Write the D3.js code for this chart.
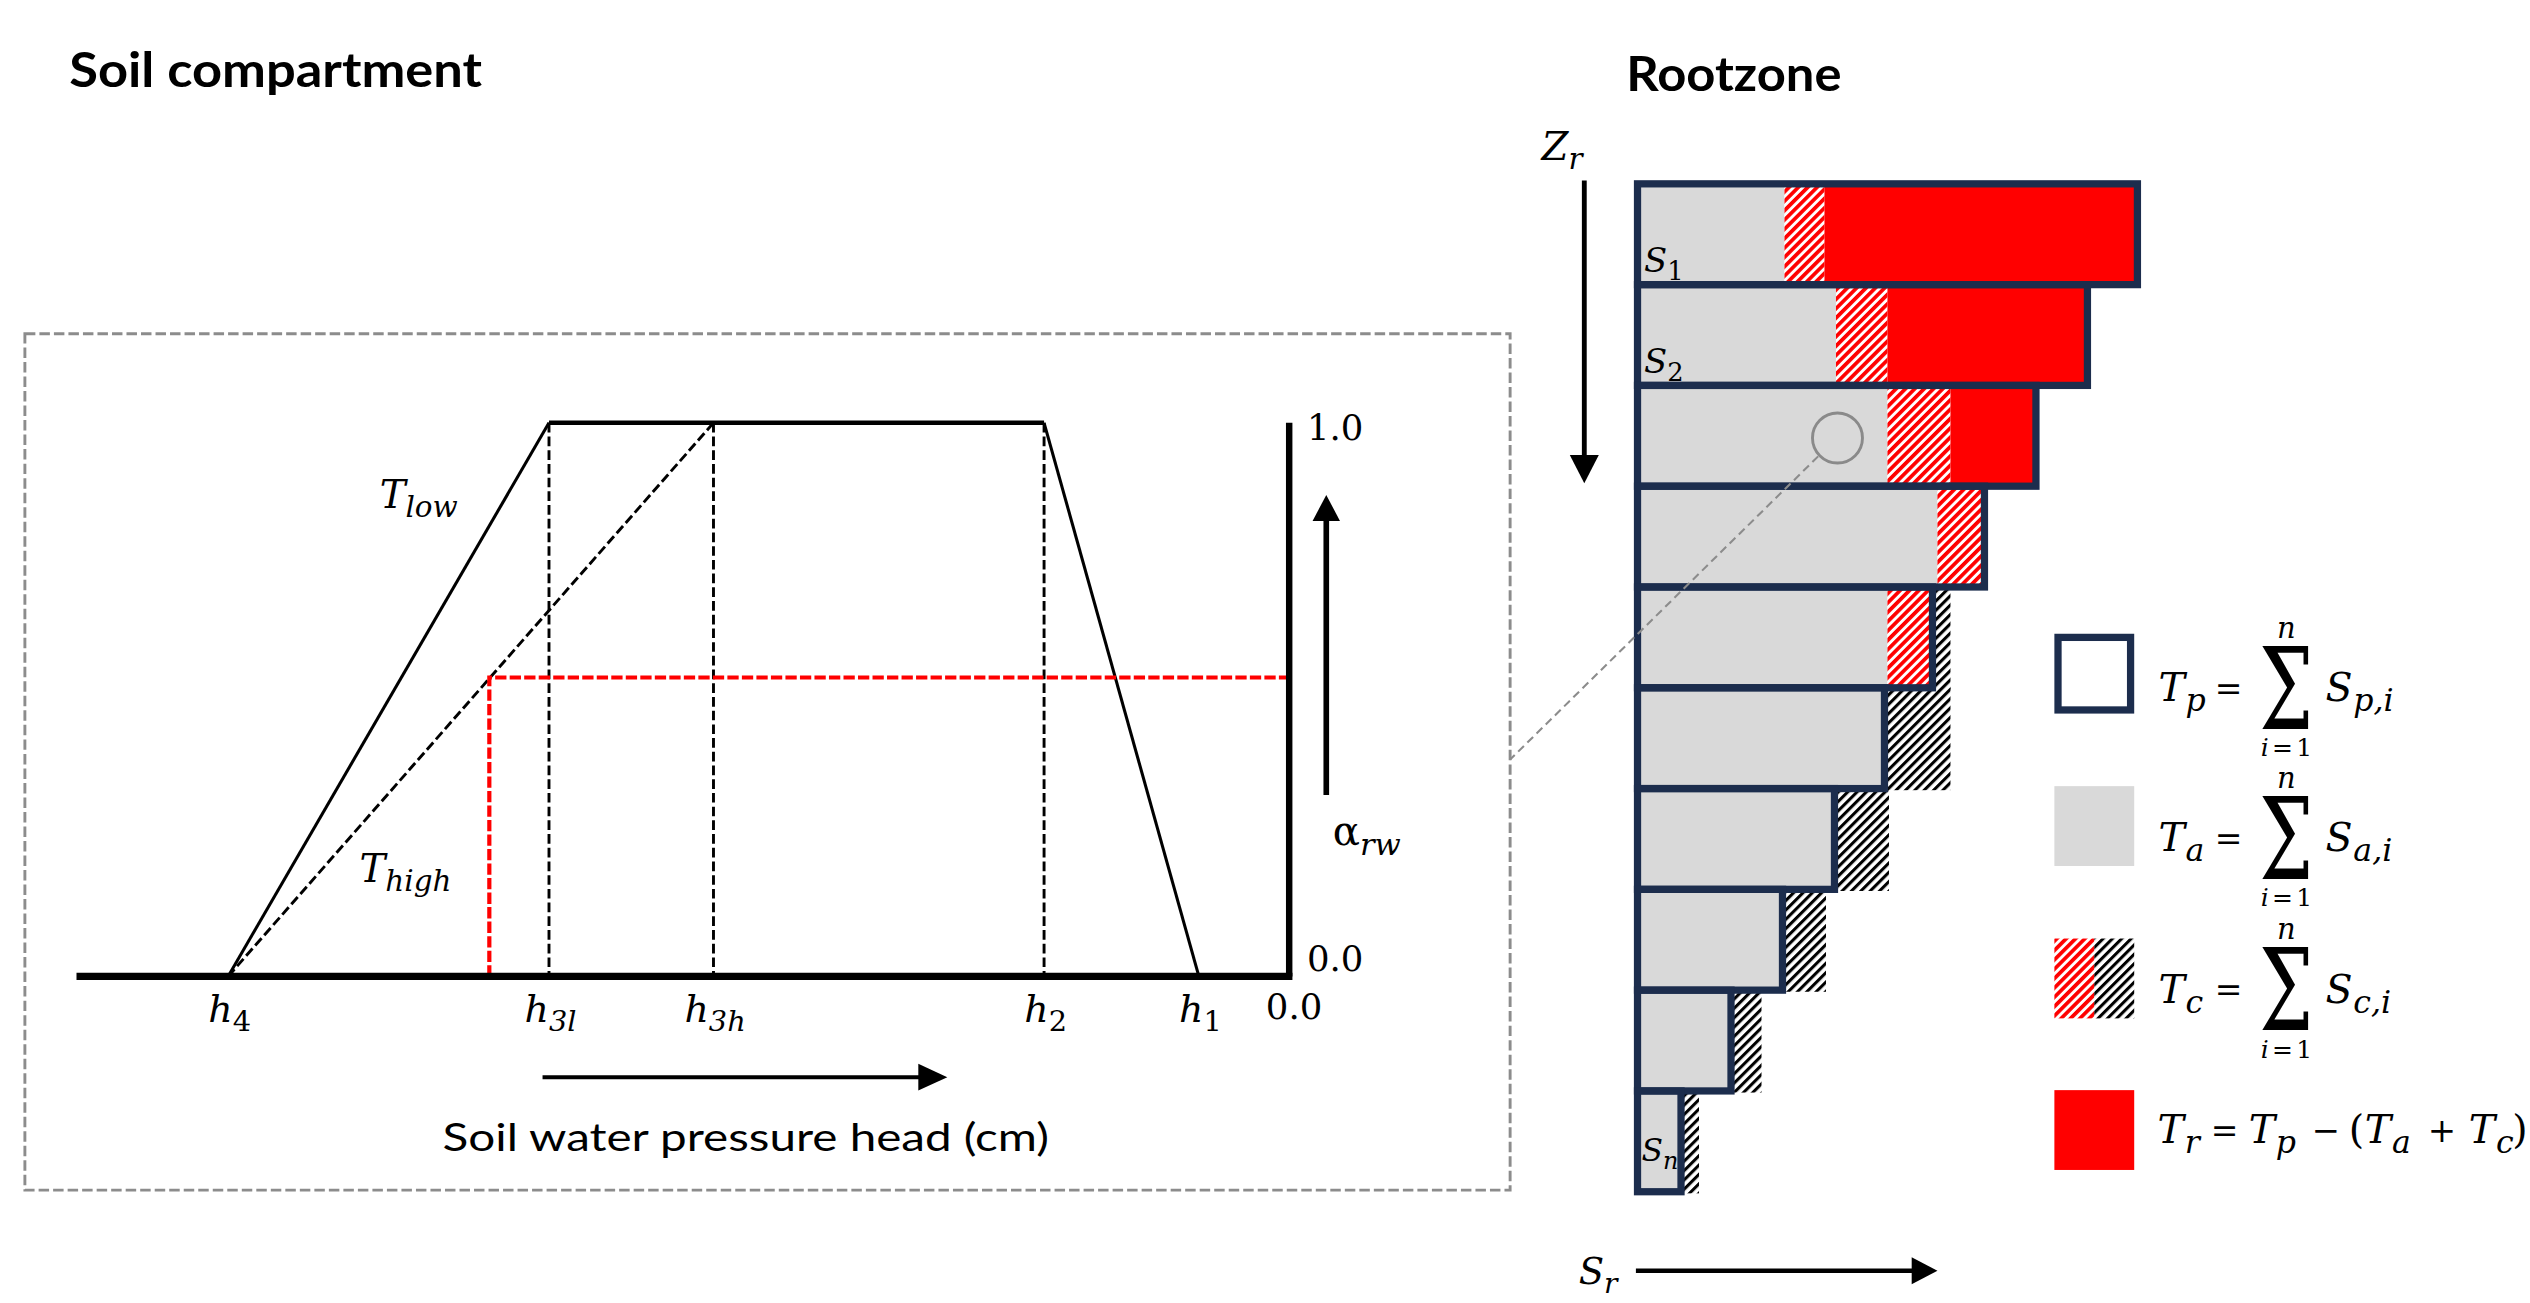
<!DOCTYPE html>
<html><head><meta charset="utf-8">
<script src="https://cdn.jsdelivr.net/npm/d3@7"></script>
<style>html,body{margin:0;padding:0;background:#fff;}svg{display:block;}text{white-space:pre;}</style>
</head><body>
<script>
// ================= DATA =================
// Left panel: reduction function alpha_rw(h)  (pressure head in arbitrary cm units)
const headDomain = [-752, 0];
const headNames = ["4", "3l", "3h", "2", "1"];          // subscripts of h
const headValues = [-658, -459, -357, -152, -56];       // h4, h3l, h3h, h2, h1
const alphaTicks = [0, 1];
const alphaTickLabels = ["0.0", "1.0"];
const originLabel = "0.0";
const tLowCurve = [[-658, 0], [-459, 1], [-152, 1], [-56, 0]];
const tHighCurve = [[-658, 0], [-357, 1]];
const dashedDrops = [-459, -357, -152];
const actualPoint = [-496, 0.54];

// Right panel: root water uptake per compartment (relative units)
const layerNames = ["1", "2", "", "", "", "", "", "", "", "n"];
const Sp = [10.0, 9.0, 7.97, 6.94, 5.9, 4.94, 3.94, 2.9, 1.87, 0.87];   // potential
const Sa = [2.94, 3.97, 5.0, 6.0, 5.0, 4.94, 3.94, 2.9, 1.87, 0.87];    // actual
const ScIn = [0.8, 1.03, 1.26, 0.94, 0.9, 0, 0, 0, 0, 0];               // compensation (within Sp)
const ScOut = [0, 0, 0, 0, 0.36, 1.32, 1.09, 0.87, 0.61, 0.36];         // compensation (beyond Sp)
const legendKeys = ["p", "a", "c"];

// ================= SETUP =================
const serif = "'DejaVu Serif','Liberation Serif',serif";
const sans = "Lato,'Open Sans',sans-serif";
const navy = "#1c2d4d";
const grayFill = "#d9d9d9";
const red = "#ff0000";
const SUB = 0.76;

const svg = d3.select("body").append("svg")
  .attr("width", 2530).attr("height", 1303)
  .attr("viewBox", "0 0 1568 808");

const defs = svg.append("defs");
function hatch(id, color, w) {
  const p = defs.append("pattern").attr("id", id)
    .attr("patternUnits", "userSpaceOnUse")
    .attr("width", 4.1).attr("height", 4.1)
    .attr("patternTransform", "rotate(45)");
  p.append("rect").attr("width", 4.1).attr("height", 4.1).attr("fill", "#fff");
  p.append("rect").attr("width", w).attr("height", 4.1).attr("fill", color);
}
hatch("hatchRed", red, 2.3);
hatch("hatchBlack", "#000", 1.9);

function mathText(parent, x, y, parts, size, anchor) {
  const t = parent.append("text").attr("x", x).attr("y", y)
    .attr("font-family", serif).attr("font-size", size)
    .attr("text-anchor", anchor || "start").attr("fill", "#000");
  let shifted = 0;
  parts.forEach(p => {
    const target = p.sub ? size * 0.24 : 0;
    const ts = t.append("tspan").text(p.t)
      .attr("dy", target - shifted)
      .attr("font-size", p.sub ? size * SUB : size)
      .attr("font-style", p.up ? "normal" : "italic");
    shifted = target;
  });
  return t;
}
function arrow(parent, x1, y1, x2, y2, shaftW, headLen, headHalf) {
  const dx = x2 - x1, dy = y2 - y1, L = Math.hypot(dx, dy);
  const ux = dx / L, uy = dy / L, px = -uy, py = ux;
  const bx = x2 - ux * headLen, by = y2 - uy * headLen;
  parent.append("line").attr("x1", x1).attr("y1", y1).attr("x2", bx + ux).attr("y2", by + uy)
    .attr("stroke", "#000").attr("stroke-width", shaftW);
  parent.append("path")
    .attr("d", `M${x2},${y2}L${bx + px * headHalf},${by + py * headHalf}L${bx - px * headHalf},${by - py * headHalf}Z`)
    .attr("fill", "#000");
}
function plain(parent, x, y, str, size, anchor) {
  return parent.append("text").attr("x", x).attr("y", y).attr("font-family", serif)
    .attr("font-size", size).attr("text-anchor", anchor || "start").text(str);
}

// ================= TITLES =================
svg.append("text").attr("x", 42.5).attr("y", 54).attr("font-family", sans)
  .attr("font-weight", 700).attr("font-size", 30)
  .attr("textLength", 256).attr("lengthAdjust", "spacingAndGlyphs").text("Soil compartment");
svg.append("text").attr("x", 1008).attr("y", 56.2).attr("font-family", sans)
  .attr("font-weight", 700).attr("font-size", 30)
  .attr("textLength", 133.5).attr("lengthAdjust", "spacingAndGlyphs").text("Rootzone");

// ================= LEFT PANEL =================
const L = svg.append("g");
L.append("rect").attr("x", 15).attr("y", 207).attr("width", 921).attr("height", 531)
  .attr("fill", "none").attr("stroke", "#8c8c8c").attr("stroke-width", 1.8)
  .attr("stroke-dasharray", "6.5,2.5");

const xH = d3.scaleLinear().domain(headDomain).range([47, 799]);
const yA = d3.scaleLinear().domain([0, 1]).range([605.5, 262.2]);
const line = d3.line().x(d => xH(d[0])).y(d => yA(d[1]));

L.selectAll(".drop").data(dashedDrops).join("line")
  .attr("x1", d => xH(d)).attr("x2", d => xH(d))
  .attr("y1", yA(1)).attr("y2", yA(0))
  .attr("stroke", "#000").attr("stroke-width", 1.8).attr("stroke-dasharray", "6,2.5");
L.append("path").attr("d", line(tHighCurve)).attr("fill", "none")
  .attr("stroke", "#000").attr("stroke-width", 1.8).attr("stroke-dasharray", "6,2.5");
L.append("path").attr("d", line(tLowCurve.slice(0, 2))).attr("fill", "none")
  .attr("stroke", "#000").attr("stroke-width", 1.9);
L.append("path").attr("d", line(tLowCurve.slice(2, 4))).attr("fill", "none")
  .attr("stroke", "#000").attr("stroke-width", 1.9);
L.append("path").attr("d", line(tLowCurve.slice(1, 3))).attr("fill", "none")
  .attr("stroke", "#000").attr("stroke-width", 2.8);
L.append("path").attr("d", line([[actualPoint[0], 0], actualPoint, [0, actualPoint[1]]]))
  .attr("fill", "none").attr("stroke", red).attr("stroke-width", 2.6).attr("stroke-dasharray", "7,2");
L.append("line").attr("x1", xH(headDomain[0])).attr("x2", xH(0) + 2)
  .attr("y1", yA(0)).attr("y2", yA(0)).attr("stroke", "#000").attr("stroke-width", 4.5);
L.append("line").attr("x1", xH(0)).attr("x2", xH(0))
  .attr("y1", yA(0)).attr("y2", yA(1)).attr("stroke", "#000").attr("stroke-width", 4);

headValues.forEach((h, i) => {
  mathText(L, xH(h) + 1, yA(0) + 28, [{ t: "h" }, { t: headNames[i], sub: true, up: headNames[i].length === 1 }], 23.5, "middle");
});
plain(L, xH(0) + 3, yA(0) + 26.5, originLabel, 22, "middle");
alphaTicks.forEach((a, i) => {
  plain(L, xH(0) + 11, yA(a) + (a === 1 ? 10.5 : -3.5), alphaTickLabels[i], 22);
});
mathText(L, 235, 315, [{ t: "T" }, { t: "low", sub: true }], 24);
mathText(L, 222.5, 547, [{ t: "T" }, { t: "high", sub: true }], 24);
mathText(L, 826, 524, [{ t: "α", up: true }, { t: "rw", sub: true }], 25);
arrow(L, 822, 493, 822, 307, 3.5, 16, 8.5);
arrow(L, 336, 668, 587, 668, 2.6, 18, 8.3);
L.append("text").attr("x", 274).attr("y", 714).attr("font-family", sans).attr("font-size", 24)
  .attr("textLength", 376).attr("lengthAdjust", "spacingAndGlyphs").text("Soil water pressure head (cm)");

// ================= RIGHT PANEL =================
const R = svg.append("g");
const xS = d3.scaleLinear().domain([0, 10]).range([1015, 1325]);
const yR = d3.scaleBand().domain(d3.range(Sp.length)).range([114, 739]).padding(0);
const bw = yR.bandwidth();
const rows = Sp.map((sp, i) => ({ i, sp, sa: Sa[i], cin: ScIn[i], cout: ScOut[i], name: layerNames[i] }));

R.selectAll(".ta").data(rows).join("rect")
  .attr("x", d => xS(0)).attr("width", d => xS(d.sa) - xS(0))
  .attr("y", d => yR(d.i)).attr("height", bw).attr("fill", grayFill);
R.selectAll(".tcin").data(rows.filter(d => d.cin > 0)).join("rect")
  .attr("x", d => xS(d.sa)).attr("width", d => xS(d.sa + d.cin) - xS(d.sa))
  .attr("y", d => yR(d.i)).attr("height", bw).attr("fill", "url(#hatchRed)");
R.selectAll(".tr").data(rows.filter(d => d.sp - d.sa - d.cin > 0.01)).join("rect")
  .attr("x", d => xS(d.sa + d.cin)).attr("width", d => xS(d.sp) - xS(d.sa + d.cin))
  .attr("y", d => yR(d.i)).attr("height", bw).attr("fill", red);
R.selectAll(".tcout").data(rows.filter(d => d.cout > 0)).join("rect")
  .attr("x", d => xS(d.sp)).attr("width", d => xS(d.sp + d.cout) - xS(d.sp))
  .attr("y", d => yR(d.i)).attr("height", bw + 1).attr("fill", "url(#hatchBlack)");
R.selectAll(".tp").data(rows).join("rect")
  .attr("x", d => xS(0)).attr("width", d => xS(d.sp) - xS(0))
  .attr("y", d => yR(d.i)).attr("height", bw)
  .attr("fill", "none").attr("stroke", navy).attr("stroke-width", 4.5);

rows.filter(d => d.name).forEach(d => {
  const isN = d.name === "n";
  mathText(R, isN ? 1017.5 : 1019, yR(d.i) + (isN ? 43.5 : 54.5),
    [{ t: "S" }, { t: d.name, sub: true, up: !isN }], isN ? 19.5 : 21);
});

R.append("circle").attr("cx", 1139).attr("cy", 271.6).attr("r", 15.5)
  .attr("fill", "none").attr("stroke", "#8a8a8a").attr("stroke-width", 1.8);
R.append("line").attr("x1", 1127).attr("y1", 283).attr("x2", 936).attr("y2", 471)
  .attr("stroke", "#8c8c8c").attr("stroke-width", 1.3).attr("stroke-dasharray", "5,3");

mathText(R, 955.5, 99, [{ t: "Z" }, { t: "r", sub: true }], 24);
arrow(R, 982, 112, 982, 299.6, 3, 17.5, 9);
mathText(R, 978.5, 796, [{ t: "S" }, { t: "r", sub: true }], 23);
arrow(R, 1014, 788, 1201, 788, 2.9, 16, 8.3);

// ================= LEGEND =================
const G = svg.append("g");
const legTops = [393, 487.5, 582, 676];
const legBase = [435, 528, 622, 709];
const sqX = 1273.5, sq = 49.5;
G.append("rect").attr("x", sqX + 2.25).attr("y", legTops[0] + 2.25).attr("width", sq - 4.5).attr("height", sq - 4.5)
  .attr("fill", "#fff").attr("stroke", navy).attr("stroke-width", 4.5);
G.append("rect").attr("x", sqX).attr("y", legTops[1]).attr("width", sq).attr("height", sq).attr("fill", grayFill);
G.append("rect").attr("x", sqX).attr("y", legTops[2]).attr("width", sq / 2).attr("height", sq).attr("fill", "url(#hatchRed)");
G.append("rect").attr("x", sqX + sq / 2).attr("y", legTops[2]).attr("width", sq / 2).attr("height", sq).attr("fill", "url(#hatchBlack)");
G.append("rect").attr("x", sqX).attr("y", legTops[3]).attr("width", sq).attr("height", sq).attr("fill", red);

const FS = 24.5, FSS = FS * 0.8, SH = FS * 0.24;
function span(t, o) {
  const s = t.append("tspan");
  Object.entries(o).forEach(([k, v]) => { if (k !== "text") s.attr(k, v); });
  s.text(o.text);
  return s;
}
legendKeys.forEach((k, i) => {
  const by = legBase[i];
  const t = G.append("text").attr("font-family", serif).attr("fill", "#000");
  span(t, { x: 1338, y: by, "font-size": FS, "font-style": "italic", text: "T" });
  span(t, { dx: 0.5, y: by + SH, "font-size": FSS, "font-style": "italic", text: k });
  span(t, { x: 1373, y: by - 1, "font-size": 20.5, text: "=" });
  span(t, { x: 1400.5, y: by + 17, "font-size": 71, textLength: 33.5, lengthAdjust: "spacingAndGlyphs", text: "Σ" });
  span(t, { x: 1411.5, y: by - 39.5, "font-size": 18, "font-style": "italic", text: "n" });
  span(t, { x: 1401.5, y: by + 34, "font-size": 15.5, "font-style": "italic", "letter-spacing": 2, text: "i" });
  span(t, { "font-size": 15.5, "letter-spacing": 2, text: "=1" });
  span(t, { x: 1441.6, y: by, "font-size": FS, "font-style": "italic", text: "S" });
  span(t, { dx: 0.5, y: by + SH, "font-size": FSS, "font-style": "italic", text: k + ",i" });
});
// T_r = T_p − (T_a + T_c)
{
  const by = legBase[3];
  const t = G.append("text").attr("font-family", serif).attr("fill", "#000");
  const Tsub = (x, s) => {
    span(t, { x: x, y: by, "font-size": FS, "font-style": "italic", text: "T" });
    span(t, { dx: 0.5, y: by + SH, "font-size": FSS, "font-style": "italic", text: s });
  };
  Tsub(1337.5, "r");
  span(t, { x: 1370.5, y: by - 1, "font-size": 20.5, text: "=" });
  Tsub(1394, "p");
  span(t, { x: 1433, y: by - 1, "font-size": 21, text: "−" });
  span(t, { x: 1456, y: by, "font-size": FS, text: "(" });
  Tsub(1466, "a");
  span(t, { x: 1505, y: by - 1, "font-size": 21, text: "+" });
  Tsub(1530.5, "c");
  span(t, { x: 1557.5, y: by, "font-size": FS, text: ")" });
}
</script>
</body></html>
